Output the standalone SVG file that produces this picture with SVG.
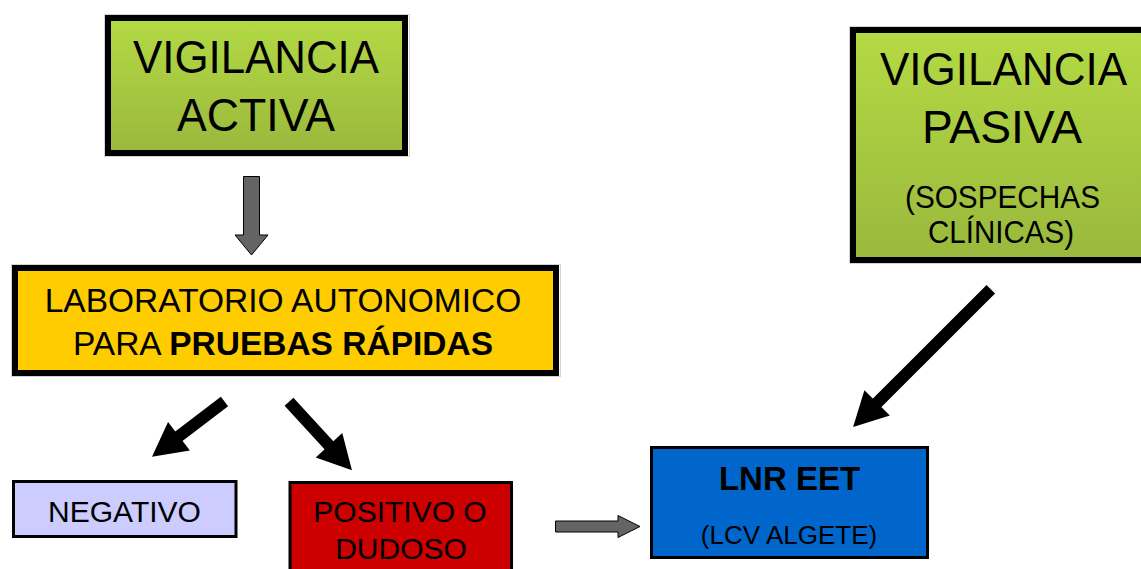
<svg xmlns="http://www.w3.org/2000/svg" width="1141" height="569" viewBox="0 0 1141 569">
<style>
  .t { font-family: "Liberation Sans", Arial, sans-serif; fill: #000; }
  .big { font-size: 46px; }
  .mid { font-size: 33.5px; }
  .sm { font-size: 31px; }
  .b { font-weight: bold; }
  .thick { fill: none; stroke: #000; stroke-width: 6; }
  .halo { fill: none; stroke: #d4d4d4; stroke-width: 1; }
  .thin { stroke: #000; stroke-width: 3; }
  .blk { stroke: #000; stroke-width: 12; fill: none; marker-end: url(#head); }
  .gray { fill: #646464; stroke: #000; stroke-width: 1; }
</style>
<defs>
  <linearGradient id="green" x1="0" y1="0" x2="0" y2="1">
    <stop offset="0" stop-color="#b4da44"/>
    <stop offset="1" stop-color="#9ab83d"/>
  </linearGradient>
  <marker id="head" markerUnits="strokeWidth" markerWidth="2.9" markerHeight="3" refX="0.05" refY="1.5" orient="auto" overflow="visible">
    <path d="M0,0 L2.83,1.5 L0,3 Z" fill="#000"/>
  </marker>
</defs>
<rect width="1141" height="569" fill="#fff"/>

<g id="vigilancia-activa">
  <rect class="halo" x="104.5" y="14.5" width="305" height="142"/>
  <rect x="108" y="18" width="297" height="135" fill="url(#green)"/>
  <rect class="thick" x="108" y="18" width="297" height="135"/>
  <text class="t big" x="256" y="73" text-anchor="middle" textLength="246" lengthAdjust="spacingAndGlyphs">VIGILANCIA</text>
  <text class="t big" x="256" y="131" text-anchor="middle" textLength="158" lengthAdjust="spacingAndGlyphs">ACTIVA</text>
</g>

<g id="vigilancia-pasiva">
  <rect class="halo" x="849.5" y="26.5" width="310" height="237"/>
  <rect x="853" y="30" width="300" height="230" fill="url(#green)"/>
  <rect class="thick" x="853" y="30" width="300" height="230"/>
  <text class="t big" x="1003.5" y="85" text-anchor="middle" textLength="247" lengthAdjust="spacingAndGlyphs">VIGILANCIA</text>
  <text class="t big" x="1002" y="143" text-anchor="middle" textLength="160" lengthAdjust="spacingAndGlyphs">PASIVA</text>
  <text class="t sm" x="1002.5" y="208" text-anchor="middle" textLength="195" lengthAdjust="spacingAndGlyphs">(SOSPECHAS</text>
  <text class="t sm" x="1001" y="243" text-anchor="middle" textLength="146" lengthAdjust="spacingAndGlyphs">CLÍNICAS)</text>
</g>

<g id="laboratorio">
  <rect class="halo" x="11.5" y="264.5" width="549" height="112"/>
  <rect x="15" y="268" width="541" height="105" fill="#ffcc00"/>
  <rect class="thick" x="15" y="268" width="541" height="105"/>
  <text class="t mid" x="283" y="312" text-anchor="middle">LABORATORIO AUTONOMICO</text>
  <text class="t mid" x="283" y="355" text-anchor="middle">PARA <tspan class="b">PRUEBAS RÁPIDAS</tspan></text>
</g>

<g id="negativo">
  <rect class="thin" x="13.5" y="481.5" width="222.5" height="55" fill="#ccccff"/>
  <text class="t" font-size="30" x="124.5" y="521.5" text-anchor="middle">NEGATIVO</text>
</g>

<g id="positivo">
  <rect class="thin" x="290" y="482.5" width="221.5" height="100" fill="#cc0000"/>
  <text class="t" font-size="30" x="400" y="521.5" text-anchor="middle">POSITIVO O</text>
  <text class="t" font-size="30" x="401" y="558.5" text-anchor="middle">DUDOSO</text>
</g>

<g id="lnr-eet">
  <rect class="thin" x="651.5" y="447.5" width="276" height="110" fill="#0066cc"/>
  <text class="t b" font-size="33" x="789.5" y="490" text-anchor="middle">LNR EET</text>
  <text class="t" font-size="26" x="789" y="543.5" text-anchor="middle">(LCV ALGETE)</text>
</g>

<g id="connectors">
  <polygon class="gray" points="243.5,176.5 259.5,176.5 259.5,235 268,235 251.5,255 235,235 243.5,235"/>
  <polygon class="gray" points="555.5,521 618,521 618,515.5 640,526.5 618,537.5 618,532 555.5,532"/>
  <line class="blk" x1="224.5" y1="401.5" x2="178.5" y2="436.6"/>
  <line class="blk" x1="289" y1="401.7" x2="329.4" y2="445.7"/>
  <line class="blk" x1="990.8" y1="289.2" x2="876.7" y2="403.3"/>
</g>
</svg>
